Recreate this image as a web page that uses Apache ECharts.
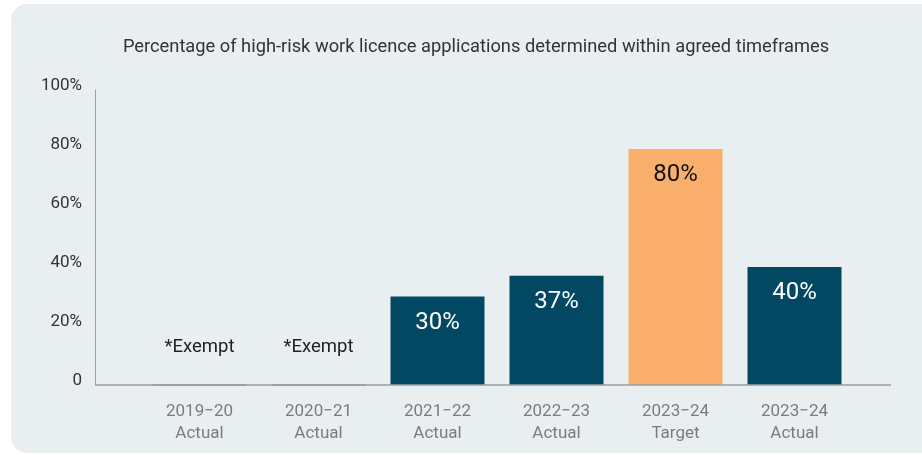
<!DOCTYPE html>
<html>
<head>
<meta charset="utf-8">
<script src="https://cdn.jsdelivr.net/npm/echarts@6/dist/echarts.min.js"></script>
<style>html,body{margin:0;padding:0;background:#fff;}#c{width:922px;height:455px;}</style>
</head>
<body>
<div id="c"></div>
<script>
var titleText = 'Percentage of high-risk work licence applications determined within agreed timeframes';
var categories = ['2019\u221220\nActual', '2020\u221221\nActual', '2021\u221222\nActual', '2022\u221223\nActual', '2023\u221224\nTarget', '2023\u221224\nActual'];
var values = [0, 0, 30, 37, 80, 40];
var exempt = [true, true, false, false, false, false];
var isTarget = [false, false, false, false, true, false];
var yTicks = [0, 20, 40, 60, 80, 100];

var NAVY = '#034862', ORANGE = '#f9af6b', FONT = 'Roboto';

var data = values.map(function (v, i) {
  var d = { value: v };
  if (exempt[i]) {
    d.itemStyle = { color: '#8d9196', borderColor: '#8d9196', borderWidth: 1 };
    d.label = { show: true, position: 'top', distance: 28, formatter: '*Exempt', color: '#222', fontSize: 18.5 };
  } else if (isTarget[i]) {
    d.itemStyle = { color: ORANGE };
    d.label = { color: '#111' };
  }
  return d;
});

var chart = echarts.init(document.getElementById('c'));
chart.setOption({
  backgroundColor: '#fff',
  animation: false,
  textStyle: { fontFamily: FONT },
  graphic: [
    { type: 'rect', z: -10, silent: true, shape: { x: 11, y: 4, width: 940, height: 449, r: 16 }, style: { fill: '#e9eef1' } },
    { type: 'line', z: 10, silent: true, shape: { x1: 95, y1: 385, x2: 891, y2: 385 }, style: { stroke: '#9a9ea3', lineWidth: 1.5 } }
  ],
  title: {
    text: titleText, left: 471, top: 33, textAlign: 'center',
    textStyle: { fontFamily: FONT, fontSize: 18.3, fontWeight: 'normal', color: '#333' }
  },
  grid: { left: 140, right: 68, top: 90, bottom: 70 },
  xAxis: {
    type: 'category', data: categories,
    axisLine: { show: false }, axisTick: { show: false },
    axisLabel: { color: '#7a7d80', fontSize: 17, lineHeight: 22, margin: 16, fontFamily: FONT }
  },
  yAxis: {
    type: 'value', min: 0, max: 100, interval: 20, offset: 45,
    axisLine: { show: true, lineStyle: { color: '#9a9ea3', width: 1 } },
    axisTick: { show: false }, splitLine: { show: false },
    axisLabel: {
      color: '#333', fontSize: 17, margin: 13, fontFamily: FONT,
      verticalAlign: 'bottom', lineHeight: 8,
      customValues: yTicks,
      formatter: function (v) { return v === 0 ? '0' : v + '%'; }
    }
  },
  series: [{
    type: 'bar', data: data, barWidth: 94,
    itemStyle: { color: NAVY },
    label: { show: true, position: 'insideTop', distance: 14, color: '#fff', fontSize: 24, fontFamily: FONT, formatter: '{c}%' }
  }]
});
</script>
</body>
</html>
